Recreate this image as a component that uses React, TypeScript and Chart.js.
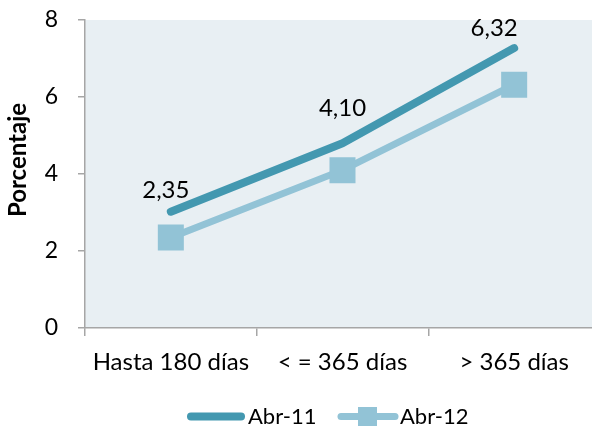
import React, { useEffect, useRef } from "react";
import { Chart, registerables } from "chart.js";

Chart.register(...registerables);

const categories = ["Hasta 180 días", "< = 365 días", "> 365 días"];
const abr11 = [3.02, 4.8, 7.27];
const abr12 = [2.35, 4.1, 6.32];
const valueLabels = ["2,35", "4,10", "6,32"];
const yTicks = [0, 2, 4, 6, 8];

const FONT = "Lato, 'Open Sans', sans-serif";
const DARK = "#4398b0";
const LIGHT = "#92c3d6";
const PLOT_BG = "#e8eff3";
const AXIS = "#a6a6a6";

const labelOffsets = [
  [-5, -21],
  [0, -35],
  [-20, -20],
];

const zeroPad = (s: any) => {
  s.paddingTop = 0;
  s.paddingBottom = 0;
  s.paddingLeft = 0;
  s.paddingRight = 0;
};

const bgPlugin = {
  id: "plotBg",
  beforeDraw(chart: any) {
    const { ctx, chartArea } = chart;
    ctx.save();
    ctx.fillStyle = PLOT_BG;
    ctx.fillRect(chartArea.left, chartArea.top, chartArea.right - chartArea.left, chartArea.bottom - chartArea.top);
    ctx.restore();
  },
};

const extrasPlugin = {
  id: "extras",
  afterDatasetsDraw(chart: any) {
    const { ctx, chartArea } = chart;
    const meta = chart.getDatasetMeta(0);
    ctx.save();
    ctx.font = `24px ${FONT}`;
    ctx.fillStyle = "#000";
    ctx.textAlign = "center";
    ctx.textBaseline = "middle";
    meta.data.forEach((pt: any, i: number) => {
      const [dx, dy] = labelOffsets[i];
      ctx.fillText(valueLabels[i], pt.x + dx, pt.y + dy);
    });
    // y axis title
    ctx.save();
    ctx.translate(18, (chartArea.top + chartArea.bottom) / 2 - 14);
    ctx.rotate(-Math.PI / 2);
    ctx.font = `bold 24px ${FONT}`;
    ctx.fillText("Porcentaje", 0, 0);
    ctx.restore();
    // legend
    const cy = 416.5;
    const cx = chartArea.left + 215;
    ctx.lineCap = "round";
    ctx.strokeStyle = DARK;
    ctx.lineWidth = 8;
    ctx.beginPath();
    ctx.moveTo(cx - 109, cy);
    ctx.lineTo(cx - 59, cy);
    ctx.stroke();
    ctx.strokeStyle = LIGHT;
    ctx.lineWidth = 7;
    ctx.beginPath();
    ctx.moveTo(cx + 41, cy);
    ctx.lineTo(cx + 95, cy);
    ctx.stroke();
    ctx.fillStyle = LIGHT;
    ctx.fillRect(cx + 58, cy - 9.5, 19, 19);
    ctx.fillStyle = "#000";
    ctx.textAlign = "left";
    ctx.font = `22px ${FONT}`;
    ctx.fillText(chart.data.datasets[0].label, cx - 52, cy);
    ctx.fillText(chart.data.datasets[1].label, cx + 100, cy);
    ctx.restore();
  },
};

export default function App() {
  const ref = useRef<HTMLCanvasElement | null>(null);
  useEffect(() => {
    if (!ref.current) return;
    const chart = new Chart(ref.current, {
      type: "line",
      data: {
        labels: categories,
        datasets: [
          {
            label: "Abr-11",
            data: abr11,
            borderColor: DARK,
            backgroundColor: DARK,
            borderWidth: 8,
            borderCapStyle: "round",
            borderJoinStyle: "round",
            pointRadius: 0,
            tension: 0,
          },
          {
            label: "Abr-12",
            data: abr12,
            borderColor: LIGHT,
            backgroundColor: LIGHT,
            borderWidth: 7,
            pointStyle: "rect",
            pointRadius: 18.4,
            pointBorderWidth: 0,
            pointBackgroundColor: LIGHT,
            tension: 0,
          },
        ],
      },
      options: {
        responsive: false,
        animation: false,
        layout: { autoPadding: false, padding: { left: 0, top: 20, right: 0, bottom: 48 } },
        plugins: {
          legend: { display: false },
          tooltip: { enabled: false },
          title: { display: false },
        },
        scales: {
          x: {
            type: "category",
            offset: true,
            afterFit: (s: any) => {
              s.height = 50;
              zeroPad(s);
            },
            grid: {
              offset: true,
              drawOnChartArea: false,
              drawTicks: true,
              tickLength: 8,
              color: AXIS,
              lineWidth: 1.5,
            },
            border: { display: true, color: AXIS, width: 1.5 },
            ticks: { color: "#000", font: { family: FONT, size: 24 }, padding: 12, maxRotation: 0 },
          },
          y: {
            min: 0,
            max: 8,
            afterFit: (s: any) => {
              s.width = 85;
              zeroPad(s);
            },
            afterBuildTicks: (s: any) => {
              s.ticks = yTicks.map((v) => ({ value: v }));
            },
            grid: {
              drawOnChartArea: false,
              drawTicks: true,
              tickLength: 7,
              color: AXIS,
              lineWidth: 1.5,
            },
            border: { display: true, color: AXIS, width: 1.5 },
            ticks: { color: "#000", font: { family: FONT, size: 23 }, padding: 20 },
          },
        },
      },
      plugins: [bgPlugin, extrasPlugin],
    });
    return () => chart.destroy();
  }, []);
  return (
    <div style={{ position: "absolute", left: 0, top: 0, width: 592, height: 426, overflow: "hidden", background: "#fff" }}>
      <canvas ref={ref} width={600} height={426} style={{ display: "block" }} />
    </div>
  );
}
